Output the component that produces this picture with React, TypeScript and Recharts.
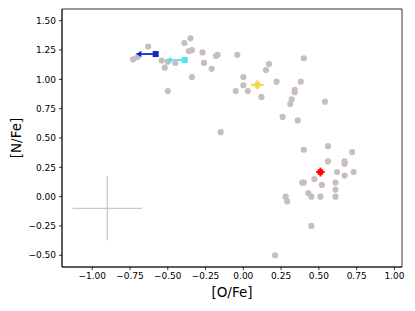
import React from 'react'
import { ScatterChart, Scatter, XAxis, YAxis, ErrorBar, Label, ReferenceArea } from 'recharts'

// comparison sample, [O/Fe] and [N/Fe]
const grayO = [
  -0.63, -0.73, -0.7, -0.35, -0.39, -0.34, -0.36, -0.27, -0.18, -0.17, -0.04, 0.4,
  -0.54, -0.5, -0.45, -0.52, -0.26, -0.21, 0.17, 0.15, -0.34, 0.0, 0.0, -0.05, 0.03,
  0.12, 0.22, 0.38, 0.34, 0.34, 0.32, 0.31, 0.54, -0.5, 0.26, 0.36, -0.15, 0.4, 0.56,
  0.72, 0.56, 0.67, 0.67, 0.62, 0.67, 0.73, 0.47, 0.39, 0.4, 0.52, 0.61, 0.61, 0.61,
  0.51, 0.43, 0.45, 0.28, 0.29, 0.45, 0.21,
]
const grayN = [
  1.28, 1.17, 1.19, 1.35, 1.31, 1.25, 1.24, 1.23, 1.2, 1.21, 1.21, 1.18,
  1.16, 1.15, 1.14, 1.1, 1.14, 1.09, 1.13, 1.08, 1.02, 1.02, 0.95, 0.9, 0.9,
  0.85, 0.98, 0.98, 0.91, 0.89, 0.83, 0.79, 0.81, 0.9, 0.68, 0.65, 0.55, 0.4, 0.43,
  0.38, 0.3, 0.3, 0.28, 0.21, 0.18, 0.21, 0.15, 0.12, 0.12, 0.1, 0.12, 0.06, 0.0,
  0.0, 0.03, 0.0, 0.0, -0.04, -0.25, -0.5,
]

// upper limits in [O/Fe] (arrows to the left)
const limitO = [-0.58, -0.388]
const limitN = [1.216, 1.165]
const limitLen = [0.128, 0.122]
const limitNErr = [0, 0.025]
const limitColors = ['#0a2fc0', '#4fe3f2']

// measured stars with error bars
const starO = [0.093, 0.51]
const starN = [0.953, 0.21]
const starOErr = [0.042, 0.028]
const starNErr = [0.038, 0.038]
const starColors = ['#f7d447', '#ff0000']

// typical uncertainty
const typO = -0.9
const typN = -0.1
const typOErr = 0.23
const typNErr = 0.275

const xTicks = [-1, -0.75, -0.5, -0.25, 0, 0.25, 0.5, 0.75, 1]
const yTicks = [-0.5, -0.25, 0, 0.25, 0.5, 0.75, 1, 1.25, 1.5]

const font = 'DejaVu Sans'
const fmt = (v: number) => v.toFixed(2).replace('-', '\u2212')

const grayData = grayO.map((o, i) => ({ o, n: grayN[i] }))
const typData = [{ o: typO, n: typN, ex: typOErr, ey: typNErr }]

const dot = (props: any) => <circle cx={props.cx} cy={props.cy} r={3.1} fill="#c8bec2" />
const none = () => <g />
const square = (color: string, s: number) => (props: any) => (
  <rect x={props.cx - s / 2} y={props.cy - s / 2} width={s} height={s} fill={color} />
)
const arrowHead = (color: string) => (props: any) => (
  <path
    d={`M${props.cx},${props.cy} L${props.cx + 5},${props.cy - 3.2} L${props.cx + 5},${props.cy + 3.2} Z`}
    fill={color}
  />
)

export default function App() {
  return (
    <div style={{ position: 'absolute', left: 0, top: 0 }}>
      <ScatterChart width={415} height={311} margin={{ top: 9, right: 13, bottom: 0, left: 0 }}>
        <XAxis
          dataKey="o"
          type="number"
          domain={[-1.2, 1.05]}
          ticks={xTicks}
          tickFormatter={fmt}
          allowDataOverflow
          height={44}
          tickSize={3}
          tickMargin={3}
          axisLine={{ stroke: '#000', strokeWidth: 0.8 }}
          tickLine={{ stroke: '#000', strokeWidth: 0.8 }}
          tick={{ fontSize: 9, fill: '#000', fontFamily: font }}
        >
          <Label value="[O/Fe]" position="insideBottom" offset={14} fontSize={13.5} fill="#000" fontFamily={font} />
        </XAxis>
        <YAxis
          dataKey="n"
          type="number"
          domain={[-0.6, 1.6]}
          ticks={yTicks}
          tickFormatter={fmt}
          allowDataOverflow
          width={62}
          tickSize={3}
          tickMargin={3}
          axisLine={{ stroke: '#000', strokeWidth: 0.8 }}
          tickLine={{ stroke: '#000', strokeWidth: 0.8 }}
          tick={{ fontSize: 9, fill: '#000', fontFamily: font }}
        >
          <Label
            content={({ viewBox }: any) => {
              const x = viewBox.x + 21
              const y = viewBox.y + viewBox.height / 2
              return (
                <text x={x} y={y} transform={`rotate(-90, ${x}, ${y})`} textAnchor="middle" fontSize={13.5} fill="#000" fontFamily={font}>
                  [N/Fe]
                </text>
              )
            }}
          />
        </YAxis>
        <ReferenceArea x1={-1.2} x2={1.05} y1={-0.6} y2={1.6} fill="none" stroke="#000" strokeWidth={0.8} />
        <Scatter data={grayData} shape={dot} isAnimationActive={false} />
        <Scatter data={typData} shape={none} isAnimationActive={false}>
          <ErrorBar dataKey="ex" direction="x" width={0} stroke="#c8c8c8" strokeWidth={1.3} />
          <ErrorBar dataKey="ey" direction="y" width={0} stroke="#c8c8c8" strokeWidth={1.3} />
        </Scatter>
        {limitO.map((o, i) => (
          <Scatter
            key={'lim' + i}
            data={[{ o, n: limitN[i], ex: [limitLen[i], 0], ey: limitNErr[i] }]}
            shape={square(limitColors[i], 6)}
            isAnimationActive={false}
          >
            <ErrorBar dataKey="ex" direction="x" width={0} stroke={limitColors[i]} strokeWidth={1.8} />
            <ErrorBar dataKey="ey" direction="y" width={0} stroke={limitColors[i]} strokeWidth={1.8} />
          </Scatter>
        ))}
        {limitO.map((o, i) => (
          <Scatter
            key={'tip' + i}
            data={[{ o: o - limitLen[i], n: limitN[i] }]}
            shape={arrowHead(limitColors[i])}
            isAnimationActive={false}
          />
        ))}
        {starO.map((o, i) => (
          <Scatter
            key={'star' + i}
            data={[{ o, n: starN[i], ex: starOErr[i], ey: starNErr[i] }]}
            shape={square(starColors[i], 5.5)}
            isAnimationActive={false}
          >
            <ErrorBar dataKey="ex" direction="x" width={0} stroke={starColors[i]} strokeWidth={2} />
            <ErrorBar dataKey="ey" direction="y" width={0} stroke={starColors[i]} strokeWidth={2} />
          </Scatter>
        ))}
      </ScatterChart>
    </div>
  )
}
